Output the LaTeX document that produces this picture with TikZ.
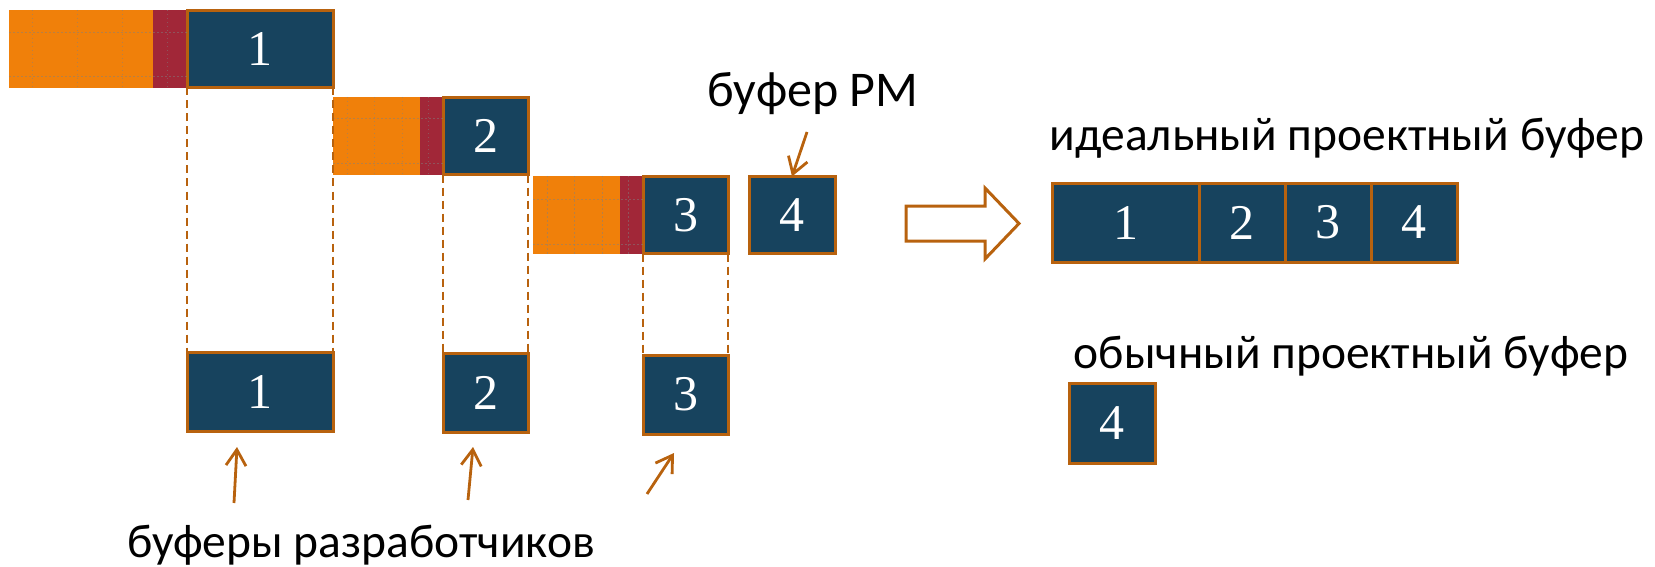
\documentclass[tikz,border=0pt]{standalone}
\usepackage{fontspec}
\usepackage{tikz}
\usetikzlibrary{arrows.meta,positioning}
\newfontfamily\lblfont{Carlito}
\newfontfamily\numfont{Liberation Serif}
\definecolor{bufblue}{HTML}{17435E}
\definecolor{bufedge}{HTML}{B8620E}
\definecolor{taskorange}{HTML}{F0800A}
\definecolor{delayred}{HTML}{A12738}
\tikzset{
    %Define standard arrow tip
    >={Straight Barb[length=16pt,width=20pt]},
    %Define styles for the bars
    tasknode/.style={
             rectangle,
             fill=taskorange,
             minimum height=78pt,
             inner sep=0pt, outer sep=0pt},
    delaynode/.style={
             rectangle,
             fill=delayred,
             minimum height=78pt,
             inner sep=0pt, outer sep=0pt},
    bufnode/.style={
             rectangle,
             fill=bufblue,
             draw=bufedge, line width=3pt,
             text=white,
             minimum height=79pt,
             inner sep=0pt, outer sep=0pt,
             font=\numfont\fontsize{50}{60}\selectfont},
    labelnode/.style={
             inner sep=0pt,
             font=\lblfont\fontsize{47.5}{57}\selectfont},
    % Define line styles
    ptrarrow/.style={
            ->,
            draw=bufedge,
            line width=2.8pt},
    linkline/.style={
            draw=bufedge,
            line width=2pt,
            dash pattern=on 8pt off 5pt},
    bigarrow/.style={
            draw=bufedge,
            line width=3pt,
            fill=white},
    gridline/.style={
            gray,
            line width=1pt,
            dash pattern=on 1.5pt off 2.5pt,
            opacity=0.5}
}

\begin{document}
\begin{tikzpicture}[x=1pt, y=-1pt]
 \useasboundingbox (0,0) rectangle (1655,567);
 % developer rows
 \node[tasknode, minimum width=144pt, anchor=north west] (task1) at (9,10) {};
 \node[delaynode, minimum width=34pt, right=0pt of task1] (delay1) {};
 \node[bufnode, minimum width=146pt, minimum height=77pt, right=0pt of delay1] (buf1) {1};
 \node[tasknode, minimum width=87pt, anchor=north west] (task2) at (333,97) {};
 \node[delaynode, minimum width=23pt, right=0pt of task2] (delay2) {};
 \node[bufnode, minimum width=85pt, minimum height=77pt, right=0pt of delay2] (buf2) {2};
 \node[tasknode, minimum width=87pt, anchor=north west] (task3) at (533,176) {};
 \node[delaynode, minimum width=23pt, right=0pt of task3] (delay3) {};
 \node[bufnode, minimum width=85pt, minimum height=77pt, right=0pt of delay3] (buf3) {3};
 \node[bufnode, minimum width=86pt, minimum height=77pt, right=21pt of buf3] (buf4) {4};
 % faint chart grid
 \foreach \gx in {32,77,122,167} \draw[gridline] (\gx,10) -- (\gx,88);
 \foreach \gy in {33,77} \draw[gridline] (9,\gy) -- (187,\gy);
 \foreach \gx in {347,374,402,428} \draw[gridline] (\gx,97) -- (\gx,174);
 \foreach \gy in {119,164} \draw[gridline] (333,\gy) -- (443,\gy);
 \foreach \gx in {547,574,602,628} \draw[gridline] (\gx,176) -- (\gx,254);
 \foreach \gy in {199,244} \draw[gridline] (533,\gy) -- (643,\gy);
 % buffers pulled down
 \node[bufnode, minimum width=146pt, anchor=north west] (low1) at (187,352) {1};
 \node[bufnode, minimum width=85pt, anchor=north west] (low2) at (443,353) {2};
 \node[bufnode, minimum width=85pt, anchor=north west] (low3) at (643,355) {3};
 \draw[linkline] (buf1.south west) -- (low1.north west);
 \draw[linkline] (buf1.south east) -- (low1.north east);
 \draw[linkline] (buf2.south west) -- (low2.north west);
 \draw[linkline] (buf2.south east) -- (low2.north east);
 \draw[linkline] (buf3.south west) -- (low3.north west);
 \draw[linkline] (buf3.south east) -- (low3.north east);
 % labels and pointers
 \node[labelnode, anchor=base, font=\lblfont\fontsize{50}{60}\selectfont] (pmlbl) at (813,107) {буфер РМ};
 \coordinate (pmtail) at (807,132);
 \draw[ptrarrow] (pmtail) -- (buf4.north);
 \node[labelnode, anchor=base] (devlbl) at (361,557) {буферы разработчиков};
 \coordinate (tail1) at (234,503);
 \coordinate (tip1) at (237,447);
 \coordinate (tail2) at (468,500);
 \coordinate (tip2) at (473,447);
 \coordinate (tail3) at (647,494);
 \coordinate (tip3) at (674,453);
 \draw[ptrarrow] (tail1) -- (tip1);
 \draw[ptrarrow] (tail2) -- (tip2);
 \draw[ptrarrow] (tail3) -- (tip3);
 % transition arrow
 \draw[bigarrow] (906,206) -- (985,206) -- (985,188) -- (1019,223.5)
       -- (985,259) -- (985,241) -- (906,241) -- cycle;
 % ideal project buffer
 \node[labelnode, anchor=base] (idlbl) at (1347,150) {идеальный проектный буфер};
 \node[bufnode, minimum width=147pt, anchor=north west] (ideal1) at (1052,183) {1};
 \node[bufnode, minimum width=86pt, right=0pt of ideal1] (ideal2) {2};
 \node[bufnode, minimum width=86pt, right=0pt of ideal2] (ideal3) {3};
 \node[bufnode, minimum width=86pt, right=0pt of ideal3] (ideal4) {4};
 % usual project buffer
 \node[labelnode, anchor=base] (uslbl) at (1351,368) {обычный проектный буфер};
 \node[bufnode, minimum width=86pt, minimum height=80pt, anchor=north west] (usual4) at (1069,383) {4};
\end{tikzpicture}
\end{document}
